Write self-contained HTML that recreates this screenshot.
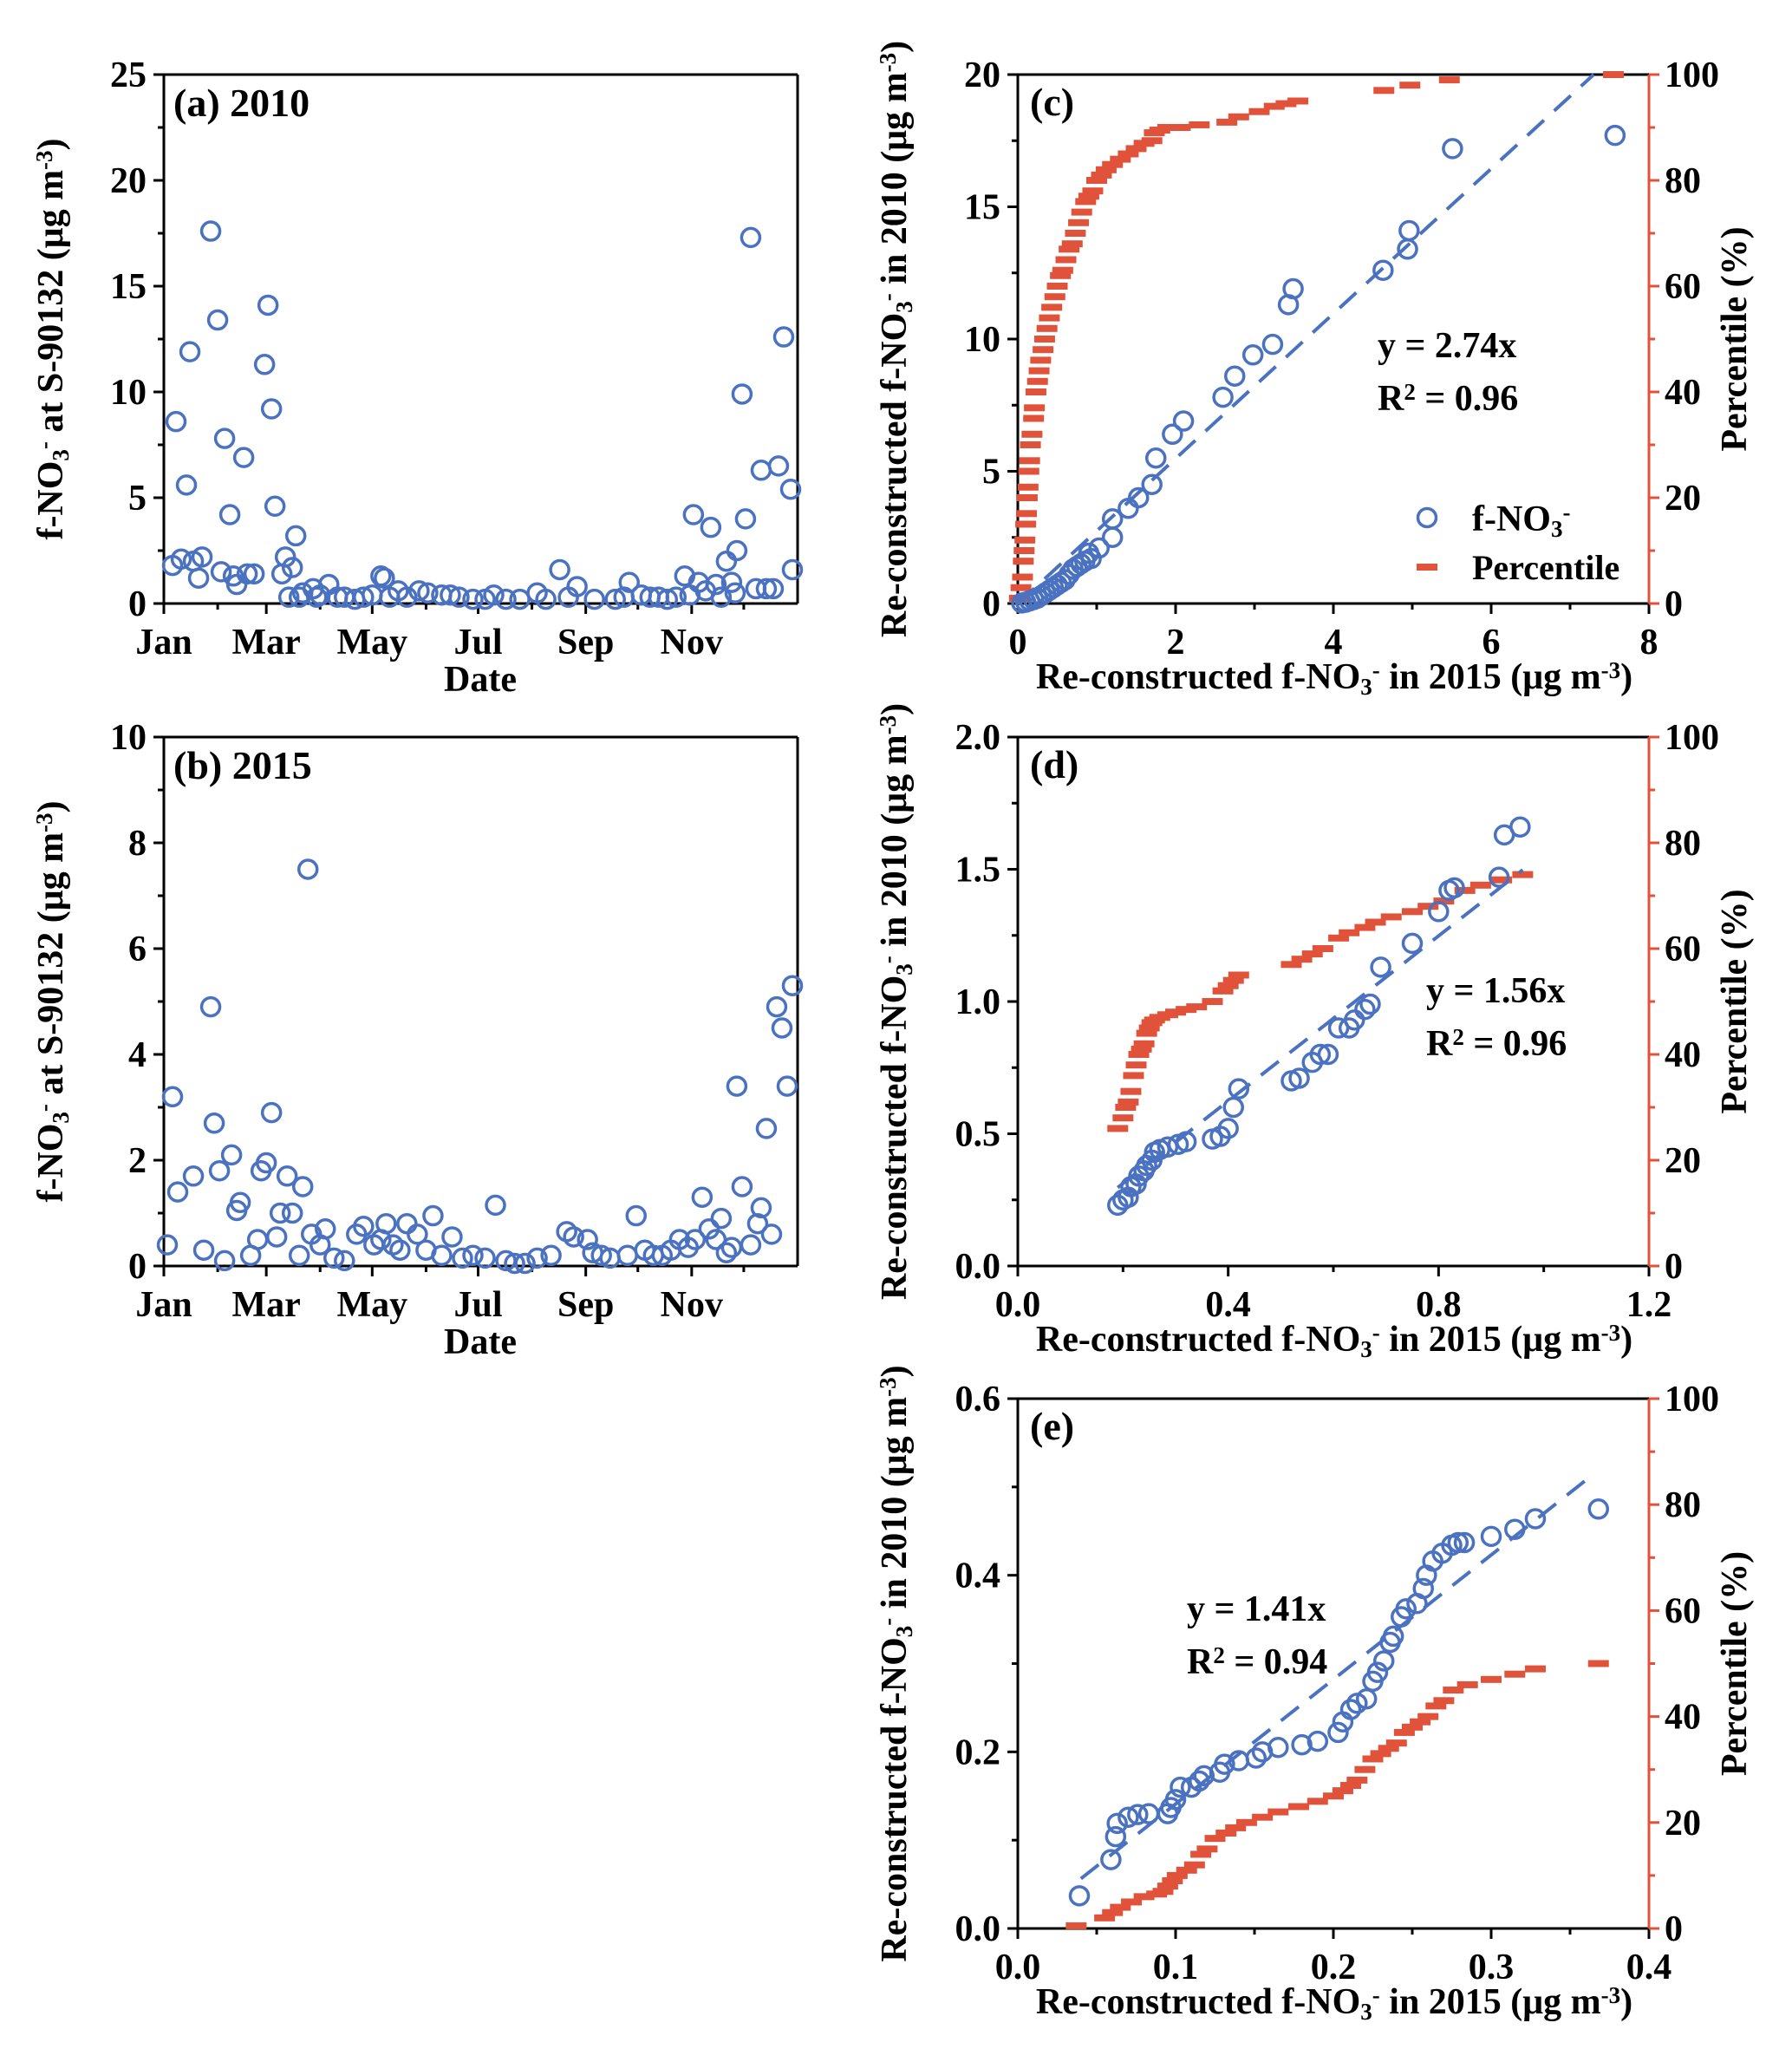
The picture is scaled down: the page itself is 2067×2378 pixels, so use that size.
<!DOCTYPE html>
<html><head><meta charset="utf-8"><style>
html,body{margin:0;padding:0;background:#fff;}
svg{display:block;font-family:"Liberation Serif",serif;font-weight:bold;}
</style></head><body>
<svg id="fig" width="2067" height="2378" viewBox="0 0 2067 2378" xmlns="http://www.w3.org/2000/svg"></svg>
<script>
// ---------- data ----------
const monthTickDays=[0,59,120,181,243,304];
const monthTickLabels=["Jan","Mar","May","Jul","Sep","Nov"];
const monthMinorDays=[31,90,151,212,273,334];
const aDays=[5,7,10,13,15,17,20,22,27,31,33,35,38,40,42,46,48,52,58,60,62,64,68,70,72,74,76,78,80,86,88,90,95,100,104,110,115,120,125,127,130,135,140,147,152,160,165,170,178,185,190,197,205,215,220,228,233,238,248,260,265,268,275,280,285,290,295,300,303,305,308,312,315,318,321,324,327,329,330,333,335,338,341,344,347,351,354,357,361,362];
const aVals=[1.8,8.6,2.1,5.6,11.9,2.0,1.2,2.2,17.6,13.4,1.5,7.8,4.2,1.3,0.9,6.9,1.4,1.4,11.3,14.1,9.2,4.6,1.4,2.2,0.3,1.7,3.2,0.3,0.5,0.7,0.3,0.4,0.9,0.3,0.3,0.2,0.3,0.4,1.3,1.2,0.3,0.6,0.3,0.6,0.5,0.4,0.4,0.3,0.2,0.2,0.4,0.2,0.2,0.5,0.2,1.6,0.3,0.8,0.2,0.2,0.3,1.0,0.4,0.3,0.3,0.2,0.3,1.3,0.4,4.2,1.0,0.6,3.6,0.9,0.3,2.0,1.0,0.5,2.5,9.9,4.0,17.3,0.7,6.3,0.7,0.7,6.5,12.6,5.4,1.6];
const bDays=[2,5,8,17,23,27,29,32,35,39,42,44,50,54,56,59,62,65,67,71,74,78,80,83,85,90,93,98,104,111,115,121,125,128,132,136,140,146,151,155,160,166,172,178,185,191,197,202,208,215,223,232,236,244,247,252,257,267,272,277,282,287,292,297,302,306,310,314,318,321,324,327,330,333,338,342,344,347,350,353,356,359,362];
const bVals=[0.4,3.2,1.4,1.7,0.3,4.9,2.7,1.8,0.1,2.1,1.05,1.2,0.2,0.5,1.8,1.95,2.9,0.55,1.0,1.7,1.0,0.2,1.5,7.5,0.6,0.4,0.7,0.15,0.1,0.6,0.75,0.4,0.5,0.8,0.4,0.3,0.8,0.6,0.3,0.95,0.2,0.55,0.15,0.2,0.15,1.15,0.1,0.05,0.05,0.15,0.2,0.65,0.55,0.5,0.25,0.2,0.15,0.2,0.95,0.3,0.2,0.2,0.3,0.5,0.35,0.5,1.3,0.7,0.5,0.9,0.25,0.35,3.4,1.5,0.4,0.8,1.1,2.6,0.6,4.9,4.5,3.4,5.3];
const cX=[7.57,5.51,4.96,4.94,4.63,3.49,3.43,3.23,2.98,2.75,2.6,2.1,1.96,1.75,1.7,1.53,1.4,1.2,1.2,1.03,0.93,0.9,0.85,0.8,0.75,0.7,0.65,0.6,0.55,0.5,0.45,0.4,0.35,0.3,0.25,0.2,0.15,0.1,0.05];
const cY=[17.7,17.2,14.1,13.4,12.6,11.9,11.3,9.8,9.4,8.6,7.8,6.9,6.4,5.5,4.5,4.0,3.6,3.2,2.5,2.1,1.7,1.9,1.6,1.5,1.4,1.3,1.1,0.9,0.8,0.7,0.6,0.5,0.4,0.3,0.2,0.15,0.1,0.05,0.02];
const cPX=[0.02,0.04,0.06,0.07,0.08,0.09,0.1,0.11,0.12,0.13,0.14,0.15,0.16,0.18,0.2,0.21,0.23,0.25,0.27,0.29,0.32,0.34,0.37,0.4,0.43,0.47,0.5,0.54,0.57,0.61,0.65,0.69,0.73,0.77,0.81,0.86,0.9,0.95,1.0,1.06,1.12,1.2,1.3,1.4,1.5,1.6,1.7,1.73,1.8,1.9,2.06,2.3,2.65,2.8,3.06,3.25,3.4,3.55,4.64,4.97,5.47,7.55];
const cPY=[1,3,5,8,10,12,15,17,20,22,25,27,30,32,35,37,40,42,44,46,48,50,52,54,56,58,60,62,63,65,67,68,70,72,74,76,77,78,80,81,82,83,84,85,86,87,87.5,89,89.5,90,90,90.5,91,92,93,94,94.5,95,97,98,99,100];
const dX=[0.19,0.2,0.21,0.215,0.225,0.23,0.24,0.245,0.255,0.26,0.27,0.285,0.305,0.32,0.37,0.385,0.4,0.41,0.42,0.52,0.535,0.56,0.575,0.59,0.61,0.63,0.64,0.66,0.67,0.69,0.75,0.8,0.82,0.83,0.915,0.925,0.955];
const dY=[0.23,0.25,0.26,0.3,0.31,0.34,0.36,0.38,0.4,0.43,0.44,0.45,0.46,0.47,0.48,0.49,0.52,0.6,0.67,0.7,0.71,0.77,0.8,0.8,0.9,0.9,0.93,0.97,0.99,1.13,1.22,1.34,1.42,1.43,1.47,1.63,1.66];
const dPX=[0.19,0.2,0.205,0.21,0.215,0.22,0.225,0.23,0.235,0.24,0.245,0.25,0.255,0.26,0.27,0.285,0.3,0.32,0.34,0.37,0.39,0.4,0.41,0.42,0.52,0.54,0.56,0.58,0.61,0.63,0.66,0.68,0.71,0.75,0.78,0.81,0.85,0.88,0.92,0.96];
const dPY=[26,28,30,31,33,36,38,40,41,42,44,45,46,46.5,47,47.5,48,48.5,49,50,52,53,54,55,57,58,59,60,62,63,64,65,66,67,68,69,71,72,73,74];
const eX=[0.039,0.059,0.062,0.063,0.07,0.076,0.083,0.095,0.097,0.1,0.103,0.11,0.115,0.118,0.128,0.131,0.14,0.151,0.155,0.165,0.18,0.19,0.203,0.206,0.211,0.215,0.221,0.225,0.228,0.232,0.236,0.238,0.243,0.246,0.253,0.257,0.259,0.263,0.269,0.275,0.279,0.283,0.3,0.315,0.328,0.368];
const eY=[0.037,0.078,0.104,0.119,0.126,0.129,0.13,0.13,0.137,0.146,0.16,0.16,0.167,0.173,0.177,0.186,0.19,0.193,0.2,0.205,0.208,0.212,0.222,0.234,0.248,0.255,0.26,0.28,0.29,0.303,0.324,0.331,0.353,0.362,0.368,0.385,0.4,0.416,0.425,0.434,0.437,0.437,0.444,0.452,0.464,0.475];
const ePX=[0.037,0.055,0.06,0.065,0.072,0.08,0.088,0.092,0.095,0.098,0.101,0.107,0.112,0.116,0.12,0.125,0.132,0.138,0.145,0.155,0.165,0.178,0.19,0.2,0.206,0.211,0.215,0.22,0.225,0.23,0.235,0.24,0.245,0.25,0.255,0.26,0.265,0.27,0.276,0.285,0.3,0.315,0.328,0.368];
const ePY=[0.5,2,3,4,5,6,6.5,7,8,9,10,11,12,14,15,17,18,19,20,21,22,23,24,25,26,27,28,30,32,33,34,35,37,38,39,40,42,43,45,46,47,48,49,50];
const fitSlopes=[2.74,1.56,1.41];

// ---------- helpers ----------
const NS="http://www.w3.org/2000/svg";
const svg=document.getElementById('fig');
const BLUE="#4a72c0", RED="#e0533a";
const FS=42;
function mk(tag,attrs,parent){const e=document.createElementNS(NS,tag);for(const k in attrs)e.setAttribute(k,attrs[k]);(parent||svg).appendChild(e);return e;}
function richText(parent,x,y,parts,attrs){
  const t=mk('text',Object.assign({x:x,y:y,'font-size':FS},attrs||{}),parent);
  parts.forEach(p=>{const s=mk('tspan',{},t);s.textContent=p[0];
    if(p[1]==='sub'){s.setAttribute('baseline-shift','-25%');s.setAttribute('font-size','27');}
    if(p[1]==='sup'){s.setAttribute('baseline-shift','45%');s.setAttribute('font-size','27');}});
  return t;}

function panel(c){
  const g=mk('g',{});
  
  
  const sx=v=>c.L+(v-c.xmin)/(c.xmax-c.xmin)*(c.R-c.L);
  const sy=v=>c.B-(v-c.ymin)/(c.ymax-c.ymin)*(c.B-c.T);
  const sp=v=>c.B-v/100*(c.B-c.T);
  const fr=mk('path',{d:`M${c.L},${c.B} L${c.L},${c.T} L${c.R},${c.T}`,fill:'none',stroke:'#000','stroke-width':3},g);
  
  
  mk('line',{x1:c.L,y1:c.B,x2:c.R,y2:c.B,stroke:'#000','stroke-width':3},g);
  const rl=mk('line',{x1:c.R,y1:c.T,x2:c.R,y2:c.B,stroke:c.pct?RED:'#000','stroke-width':3},g);
  
  
  const xax=mk('g',{},g);
  
  
  c.xt.forEach((v,i)=>{const x=sx(v);mk('line',{x1:x,y1:c.B,x2:x,y2:c.B+12,stroke:'#000','stroke-width':3},xax);
    const t=mk('text',{x:x,y:c.B+58,'font-size':FS,'text-anchor':'middle'},xax);t.textContent=c.xl[i];
    
    });
  c.xm.forEach(v=>{const x=sx(v);mk('line',{x1:x,y1:c.B,x2:x,y2:c.B+7,stroke:'#000','stroke-width':3},xax);});
  const yax=mk('g',{},g);
  
  
  c.yt.forEach((v,i)=>{const y=sy(v);mk('line',{x1:c.L-12,y1:y,x2:c.L,y2:y,stroke:'#000','stroke-width':3},yax);
    const t=mk('text',{x:c.L-20,y:y+14,'font-size':FS,'text-anchor':'end'},yax);t.textContent=c.yl[i];
    
    });
  c.ym.forEach(v=>{const y=sy(v);mk('line',{x1:c.L-7,y1:y,x2:c.L,y2:y,stroke:'#000','stroke-width':3},yax);});
  if(c.pct){
    const rax=mk('g',{},g);
    
    
    [0,20,40,60,80,100].forEach(v=>{const y=sp(v);mk('line',{x1:c.R,y1:y,x2:c.R+12,y2:y,stroke:RED,'stroke-width':3},rax);
      const t=mk('text',{x:c.R+18,y:y+14,'font-size':FS},rax);t.textContent=v;
      
      });
    [10,30,50,70,90].forEach(v=>{const y=sp(v);mk('line',{x1:c.R,y1:y,x2:c.R+7,y2:y,stroke:RED,'stroke-width':3},rax);});
    const cx=c.R+112, cy=(c.T+c.B)/2;
    const rt=mk('text',{x:0,y:0,'font-size':FS,'text-anchor':'middle',transform:`translate(${cx},${cy}) rotate(-90)`},g);
    rt.textContent='Percentile (%)';
    
    
  }
  if(c.px){
    const pg=mk('g',{},g);
    
    
    c.px.forEach((v,i)=>{const r=mk('rect',{x:sx(v)-12,y:sp(c.py[i])-4,width:24,height:8,fill:RED},pg);
      
      });
  }
  if(c.slope){
    const x2=Math.min(c.fitTo,(c.ymax)/c.slope);
    const fl=mk('line',{x1:sx(c.fitFrom),y1:sy(c.slope*c.fitFrom),x2:sx(x2),y2:sy(c.slope*x2),stroke:BLUE,'stroke-width':4,'stroke-dasharray':'26,16'},g);
    
    
  }
  const ptg=mk('g',{},g);
  
  
  c.x.forEach((v,i)=>{const p=mk('circle',{cx:sx(v),cy:sy(c.y[i]),r:10.5,fill:'none',stroke:BLUE,'stroke-width':3.5},ptg);
    
    });
  return {g,sx,sy};
}

// ---------- panels ----------
const rowsTB=[[86,696],[850,1460],[1613,2224]];
const yTitleA=[["f-NO"],["3","sub"],["-","sup"],[" at S-90132 (μg m"],["-3","sup"],[")"]];
[['a',aDays,aVals,25,[0,5,10,15,20,25],[2.5,7.5,12.5,17.5,22.5],"(a) 2010"],
 ['b',bDays,bVals,10,[0,2,4,6,8,10],[1,3,5,7,9],"(b) 2015"]].forEach((p,k)=>{
  const T=rowsTB[k][0],B=rowsTB[k][1];
  panel({name:'panel-'+p[0],L:189,R:920,T:T,B:B,xmin:0,xmax:365,ymin:0,ymax:p[3],
    xt:monthTickDays,xl:monthTickLabels,xm:monthMinorDays,yt:p[4],yl:p[4].map(String),ym:p[5],x:p[1],y:p[2]});
  const lab=mk('text',{x:200,y:T+48,'font-size':46});lab.textContent=p[6];
  
  
  const xt=mk('text',{x:554,y:B+101,'font-size':FS,'text-anchor':'middle'});xt.textContent='Date';
  
  
  const yt=richText(svg,0,0,yTitleA,{'text-anchor':'middle',transform:`translate(72,${(T+B)/2}) rotate(-90)`});
  
  
});

const yTitleC=[["Re-constructed f-NO"],["3","sub"],["-","sup"],["  in 2010 (μg m"],["-3","sup"],[")"]];
const xTitleC=[["Re-constructed f-NO"],["3","sub"],["-","sup"],[" in 2015 (μg m"],["-3","sup"],[")"]];
const rc=[
 {name:'panel-c',xmax:8,ymax:20,xt:[0,2,4,6,8],xl:["0","2","4","6","8"],xm:[1,3,5,7],yt:[0,5,10,15,20],yl:["0","5","10","15","20"],ym:[2.5,7.5,12.5,17.5],x:cX,y:cY,px:cPX,py:cPY,slope:fitSlopes[0],fitFrom:0,fitTo:8,lab:"(c)",eq:["2.74x","0.96"],eqx:1589,eqy:412},
 {name:'panel-d',xmax:1.2,ymax:2,xt:[0,0.4,0.8,1.2],xl:["0.0","0.4","0.8","1.2"],xm:[0.2,0.6,1.0],yt:[0,0.5,1,1.5,2],yl:["0.0","0.5","1.0","1.5","2.0"],ym:[0.25,0.75,1.25,1.75],x:dX,y:dY,px:dPX,py:dPY,slope:fitSlopes[1],fitFrom:0.19,fitTo:0.96,lab:"(d)",eq:["1.56x","0.96"],eqx:1645,eqy:1156},
 {name:'panel-e',xmax:0.4,ymax:0.6,xt:[0,0.1,0.2,0.3,0.4],xl:["0.0","0.1","0.2","0.3","0.4"],xm:[0.05,0.15,0.25,0.35],yt:[0,0.2,0.4,0.6],yl:["0.0","0.2","0.4","0.6"],ym:[0.1,0.3,0.5],x:eX,y:eY,px:ePX,py:ePY,slope:fitSlopes[2],fitFrom:0.04,fitTo:0.365,lab:"(e)",eq:["1.41x","0.94"],eqx:1369,eqy:1869}
];
rc.forEach((c,k)=>{
  const T=rowsTB[k][0],B=rowsTB[k][1];
  Object.assign(c,{L:1174,R:1902,T:T,B:B,xmin:0,ymin:0,pct:true});
  panel(c);
  const lab=mk('text',{x:1188,y:T+47,'font-size':46});lab.textContent=c.lab;
  
  
  const e1=mk('text',{x:c.eqx,y:c.eqy,'font-size':FS});e1.textContent='y = '+c.eq[0];
  
  
  const e2=richText(svg,c.eqx,c.eqy+61,[["R"],["2","sup"],[" = "+c.eq[1]]]);
  
  
  const xt=richText(svg,1539,B+98,xTitleC,{'text-anchor':'middle'});
  
  
  const yt=richText(svg,0,0,yTitleC,{'text-anchor':'middle',transform:`translate(1045,${(T+B)/2}) rotate(-90)`});
  
  
});

const lg=mk('g',{});


const lc=mk('circle',{cx:1646,cy:597,r:10.5,fill:'none',stroke:BLUE,'stroke-width':3.5},lg);


const lt1=richText(lg,1698,612,[["f-NO"],["3","sub"],["-","sup"]]);


const lr=mk('rect',{x:1634,y:650,width:24,height:8,fill:RED},lg);


const lt2=mk('text',{x:1698,y:668,'font-size':40},lg);lt2.textContent='Percentile';


</script>
</body></html>
